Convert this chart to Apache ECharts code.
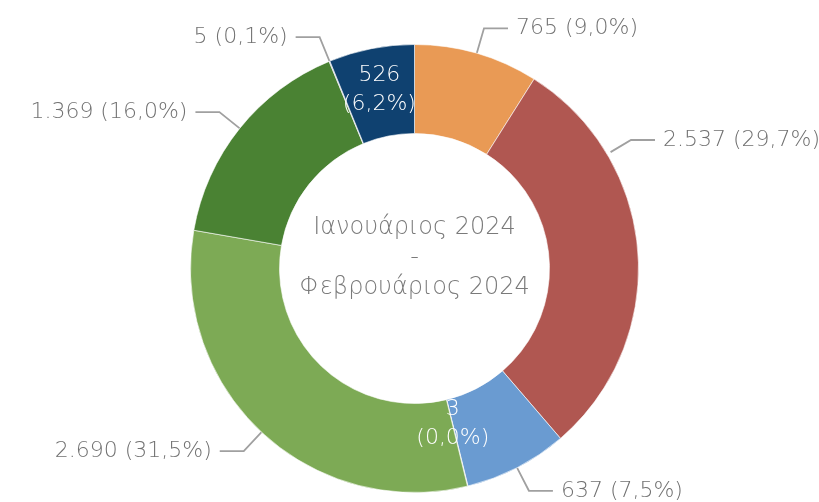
<!DOCTYPE html>
<html>
<head>
<meta charset="utf-8">
<script src="https://cdn.jsdelivr.net/npm/echarts@6/dist/echarts.min.js"></script>
<style>html,body{margin:0;padding:0;background:#fff}#c{width:819px;height:502px}</style>
</head>
<body>
<div id="c"></div>
<script>
const categories = ['A', 'B', 'C', 'D', 'E', 'F', 'G', 'H'];
const values = [765, 2537, 637, 3, 2690, 1369, 5, 526];
const colors = ['#E99A55', '#B05751', '#6A9BD1', '#A5A5A5', '#7DAA55', '#4A8233', '#9E9EB8', '#0F4170'];
const insideLabels = [3, 7];
const centerLines = ['Ιανουάριος 2024', '-', 'Φεβρουάριος 2024'];

const total = values.reduce((a, b) => a + b, 0);
function fmtNum(v) { return v.toString().replace(/\B(?=(\d{3})+(?!\d))/g, '.'); }
function fmtPct(v) { return (v / total * 100).toFixed(1).replace('.', ',') + '%'; }

const FONT = '"DejaVu Sans"';
const TXT = '#717171';
const CX = 414.5, CY = 268.5, R0 = 135, R = 224;

const data = values.map((v, i) => {
  const inside = insideLabels.indexOf(i) >= 0;
  const d = { name: categories[i], value: v, itemStyle: { color: colors[i] } };
  if (inside) {
    d.label = { position: 'inside', color: '#ffffff', formatter: fmtNum(v) + '\n(' + fmtPct(v) + ')', lineHeight: 29 };
    d.labelLine = { show: false };
  }
  return d;
});

const chart = echarts.init(document.getElementById('c'), null, { renderer: 'canvas' });
chart.setOption({
  animation: false,
  graphic: [{
    type: 'text',
    x: CX, y: 258,
    style: {
      text: centerLines.join('\n'),
      fill: '#7a7a7a',
      font: '200 24px ' + FONT,
      align: 'center', verticalAlign: 'middle',
      lineHeight: 30
    }
  }],
  series: [{
    type: 'pie',
    center: [CX, CY],
    radius: [R0, R],
    startAngle: 90,
    clockwise: true,
    avoidLabelOverlap: false,
    itemStyle: { borderColor: '#ffffff', borderWidth: 0.6 },
    label: {
      show: true,
      position: 'outside',
      color: TXT,
      fontFamily: FONT,
      fontWeight: 200,
      fontSize: 22,
      distanceToLabelLine: 8,
      formatter: p => fmtNum(p.value) + ' (' + fmtPct(p.value) + ')'
    },
    labelLine: {
      show: true,
      length: 26,
      length2: 24,
      lineStyle: { color: '#A0A0A0', width: 1.8 }
    },
    labelLayout: function (params) {
      if (params.dataIndex === 1) {
        const lx = 663, ly = 140;
        const end = [lx - 8, ly];
        const bend = [end[0] - 24, ly];
        const dx = bend[0] - CX, dy = bend[1] - CY;
        const len = Math.sqrt(dx * dx + dy * dy);
        const start = [CX + dx / len * (R + 4), CY + dy / len * (R + 4)];
        return { x: lx, y: ly, align: 'left', verticalAlign: 'middle', labelLinePoints: [start, bend, end] };
      }
      if (params.dataIndex === 3) {
        return { dx: -5, dy: -22 };
      }
      return {};
    },
    data: data
  }]
});
</script>
</body>
</html>
